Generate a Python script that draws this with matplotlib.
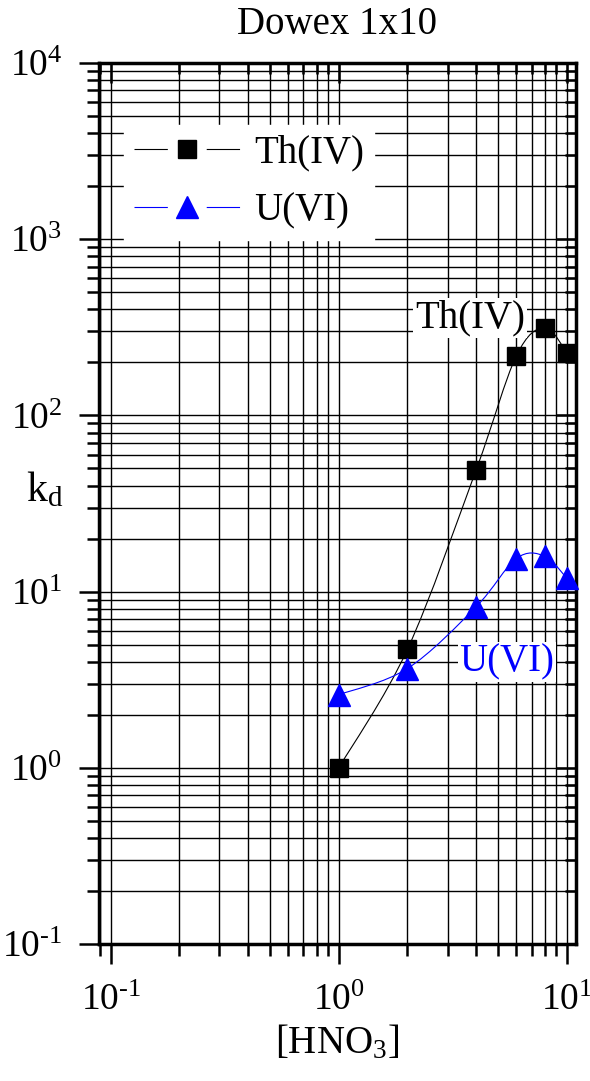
"""Distribution coefficients of Th(IV) and U(VI) on Dowex 1x10 vs HNO3 concentration."""
import numpy as np
import matplotlib
matplotlib.use('Agg')
import matplotlib.pyplot as plt
from matplotlib.path import Path
from matplotlib.patches import PathPatch
from matplotlib.lines import Line2D
from matplotlib.ticker import FuncFormatter

# data
hno3 = [1, 2, 4, 6, 8, 10]
kd_th = [1.0, 4.7, 49, 217, 315, 226]
kd_u = [2.6, 3.66, 8.2, 15.4, 15.9, 11.9]
series_names = ['Th(IV)', 'U(VI)']
title = 'Dowex 1x10'


def smooth_path(xs, ys):
    """Catmull-Rom curve through the points, built as a bezier path in log-log space."""
    lx = np.log10(xs)
    ly = np.log10(ys)
    pts = np.column_stack([lx, ly])
    ext = np.vstack([pts[0], pts, pts[-1]])
    verts = [pts[0]]
    codes = [Path.MOVETO]
    for i in range(len(pts) - 1):
        p0, p1, p2, p3 = ext[i], ext[i + 1], ext[i + 2], ext[i + 3]
        c1 = p1 + (p2 - p0) / 6.0
        c2 = p2 - (p3 - p1) / 6.0
        verts += [c1, c2, p2]
        codes += [Path.CURVE4] * 3
    verts = 10 ** np.array(verts)
    return Path(verts, codes)


def pow10_label(val, pos):
    # Origin style: plain hyphen in the exponent
    exp = int(round(np.log10(val)))
    s = str(exp).replace('-', '\u2010')
    return r'$\mathregular{10^{%s}}$' % s


plt.rcParams['font.family'] = 'Liberation Serif'
plt.rcParams['mathtext.fontset'] = 'custom'
plt.rcParams['mathtext.rm'] = 'Liberation Serif'
plt.rcParams['mathtext.it'] = 'Liberation Serif:italic'
plt.rcParams['font.size'] = 28

fig = plt.figure(figsize=(5.9, 10.81), dpi=100)
ax = fig.add_axes([0.168, 0.1267, 0.808, 0.815])
ax.set_xscale('log')
ax.set_yscale('log')
ax.set_xlim(0.089, 10.95)
ax.set_ylim(0.1, 1e4)

# grid on every decade and sub-decade line
ax.grid(which='both', color='black', lw=1.0)
ax.set_axisbelow(True)

# smooth connecting curves
ax.add_patch(PathPatch(smooth_path(hno3, kd_th), fill=False, ec='black', lw=0.8, zorder=3))
ax.add_patch(PathPatch(smooth_path(hno3, kd_u), fill=False, ec='blue', lw=0.8, zorder=3))

ax.plot(hno3, kd_th, ls='none', marker='s', ms=13.5, color='black', zorder=4, clip_on=False)
ax.plot(hno3, kd_u, ls='none', marker='^', ms=16, color='blue', zorder=4, clip_on=False)

# spines and ticks
for sp in ax.spines.values():
    sp.set_linewidth(2.5)
ax.xaxis.set_major_formatter(FuncFormatter(pow10_label))
ax.yaxis.set_major_formatter(FuncFormatter(pow10_label))
ax.tick_params(which='major', direction='out', length=14.5, width=1.8, labelsize=27)
ax.tick_params(which='minor', direction='out', length=8.5, width=1.8)
ax.tick_params(axis='y', which='major', pad=12)
ax.tick_params(axis='x', which='major', pad=14)

top = ax.secondary_xaxis('top')
top.tick_params(which='major', direction='in', length=14.5, width=1.8, labeltop=False)
top.tick_params(which='minor', direction='in', length=8, width=1.8)
right = ax.secondary_yaxis('right')
right.tick_params(which='major', direction='in', length=14.5, width=1.8, labelright=False)
right.tick_params(which='minor', direction='in', length=8, width=1.8)

ax.set_xlabel(r'$\mathregular{[HNO_3]}$', fontsize=28, labelpad=4)
ax.set_ylabel(r'$\mathregular{k_d}$', fontsize=30, rotation=0, va='center')
ax.yaxis.set_label_coords(-0.115, 0.515)

# title sits close to the top edge of the figure
fig.text(0.572, 1 - 24 / 1081, title, ha='center', va='center', fontsize=28)

# legend handles: line with a gap around the marker
th_line = Line2D([], [], color='black', lw=0.8, dashes=(30, 35))
th_mark = Line2D([], [], ls='none', color='black', marker='s', ms=13.5)
u_line = Line2D([], [], color='blue', lw=0.8, dashes=(30, 35))
u_mark = Line2D([], [], ls='none', color='blue', marker='^', ms=16)
leg = ax.legend([(th_line, th_mark), (u_line, u_mark)], series_names,
                loc='upper left', bbox_to_anchor=(0.052, 0.93),
                borderaxespad=0, frameon=True, fancybox=False, handlelength=2.75,
                handletextpad=0.35, labelspacing=0.55, borderpad=0.25, fontsize=28)
leg.get_frame().set_edgecolor('white')
leg.get_frame().set_facecolor('white')
leg.get_frame().set_alpha(1)

# curve labels
ax.text(0.778, 0.711, series_names[0], transform=ax.transAxes, ha='center', va='center',
        fontsize=28, color='black', zorder=5,
        bbox=dict(facecolor='white', edgecolor='none', pad=1))
ax.text(0.855, 0.320, series_names[1], transform=ax.transAxes, ha='center', va='center',
        fontsize=28, color='blue', zorder=5,
        bbox=dict(facecolor='white', edgecolor='none', pad=1))

fig.savefig('out.png', dpi=100)
